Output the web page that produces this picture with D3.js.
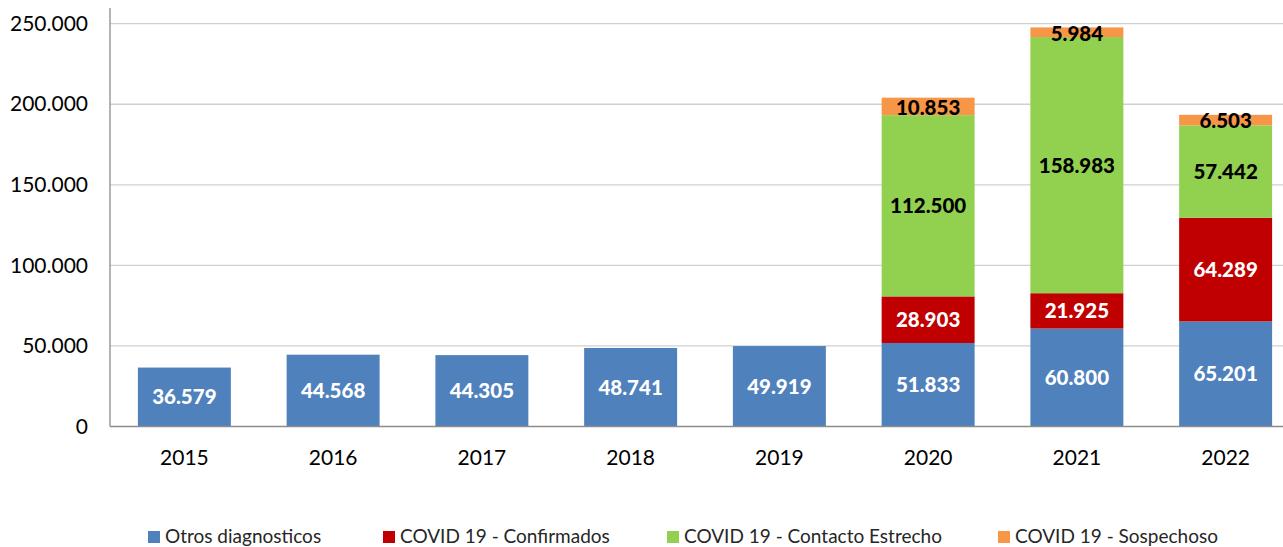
<!DOCTYPE html>
<html><head><meta charset="utf-8">
<script src="https://cdn.jsdelivr.net/npm/d3@7"></script>
<style>body{margin:0;background:#fff;overflow:hidden}svg{display:block}</style>
</head><body><svg id="c" width="1283" height="547"></svg>
<script>
const years = ["2015","2016","2017","2018","2019","2020","2021","2022"];
const otros = [36579,44568,44305,48741,49919,51833,60800,65201];
const confirmados = [0,0,0,0,0,28903,21925,64289];
const contacto = [0,0,0,0,0,112500,158983,57442];
const sospechoso = [0,0,0,0,0,10853,5984,6503];
const seriesNames = ["Otros diagnosticos","COVID 19 - Confirmados","COVID 19 - Contacto Estrecho","COVID 19 - Sospechoso"];
const colors = ["#4F81BD","#C00000","#92D050","#F79646"];
const labelColors = ["#fff","#fff","#000","#000"];
const yTicks = [0,50000,100000,150000,200000,250000];

const svg = d3.select("#c");
const font = "Lato, 'DejaVu Sans', sans-serif";
const x = d3.scaleBand().domain(years).range([110,1300]).paddingInner(0.375).paddingOuter(0.1875);
const y = d3.scaleLinear().domain([0,250000]).range([426.5,23.7]);
const fmt = v => d3.format(",")(v).replace(/,/g,".");

// gridlines
svg.append("g").selectAll("line").data(yTicks.slice(1)).join("line")
  .attr("x1",110).attr("x2",1283).attr("y1",d=>y(d)).attr("y2",d=>y(d))
  .attr("stroke","#D0D0D0").attr("stroke-width",1.3);

const table = years.map((yr,i)=>({year:yr, s0:otros[i], s1:confirmados[i], s2:contacto[i], s3:sospechoso[i]}));
const stacked = d3.stack().keys(["s0","s1","s2","s3"])(table);

const g = svg.append("g");
stacked.forEach((layer,k)=>{
  g.append("g").selectAll("rect").data(layer.filter(d=>d[1]>d[0])).join("rect")
    .attr("x",d=>x(d.data.year)).attr("width",x.bandwidth())
    .attr("y",d=>y(d[1])).attr("height",d=>y(d[0])-y(d[1]))
    .attr("fill",colors[k]);
});
stacked.forEach((layer,k)=>{
  g.append("g").selectAll("text").data(layer.filter(d=>d[1]>d[0])).join("text")
    .attr("x",d=>x(d.data.year)+x.bandwidth()/2)
    .attr("y",d=>(y(d[0])+y(d[1]))/2 + (k===3?1:0))
    .attr("dy","0.36em").attr("text-anchor","middle")
    .attr("font-family",font).attr("font-weight",900).attr("font-size",20.5)
    .attr("fill",labelColors[k]).text(d=>fmt(d[1]-d[0]));
});

// axes
const ya = svg.append("g").attr("transform","translate(110,0)")
  .call(d3.axisLeft(y).tickValues(yTicks).tickSize(0).tickPadding(22).tickFormat(fmt));
ya.select(".domain").remove();
ya.selectAll("text").attr("font-family",font).attr("font-size",21).attr("fill","#000");
svg.append("line").attr("x1",110).attr("x2",110).attr("y1",8).attr("y2",y(0)).attr("stroke","#8C8C8C").attr("stroke-width",1.3);
svg.append("line").attr("x1",110).attr("x2",1283).attr("y1",y(0)).attr("y2",y(0)).attr("stroke","#8C8C8C").attr("stroke-width",1.3);

const xa = svg.append("g").attr("transform",`translate(0,${y(0)})`)
  .call(d3.axisBottom(x).tickSize(0).tickPadding(24));
xa.select(".domain").remove();
xa.selectAll("text").attr("font-family",font).attr("font-size",21).attr("fill","#000");

// legend
const legX = [148,383,667,998];
const leg = svg.append("g").selectAll("g").data(seriesNames).join("g")
  .attr("transform",(d,i)=>`translate(${legX[i]},536)`);
leg.append("rect").attr("x",0).attr("y",-5).attr("width",12).attr("height",12).attr("fill",(d,i)=>colors[i]);
leg.append("text").attr("x",17).attr("dy","0.36em").attr("font-family",font).attr("font-size",19).attr("fill","#262626").text(d=>d);
</script></body></html>
